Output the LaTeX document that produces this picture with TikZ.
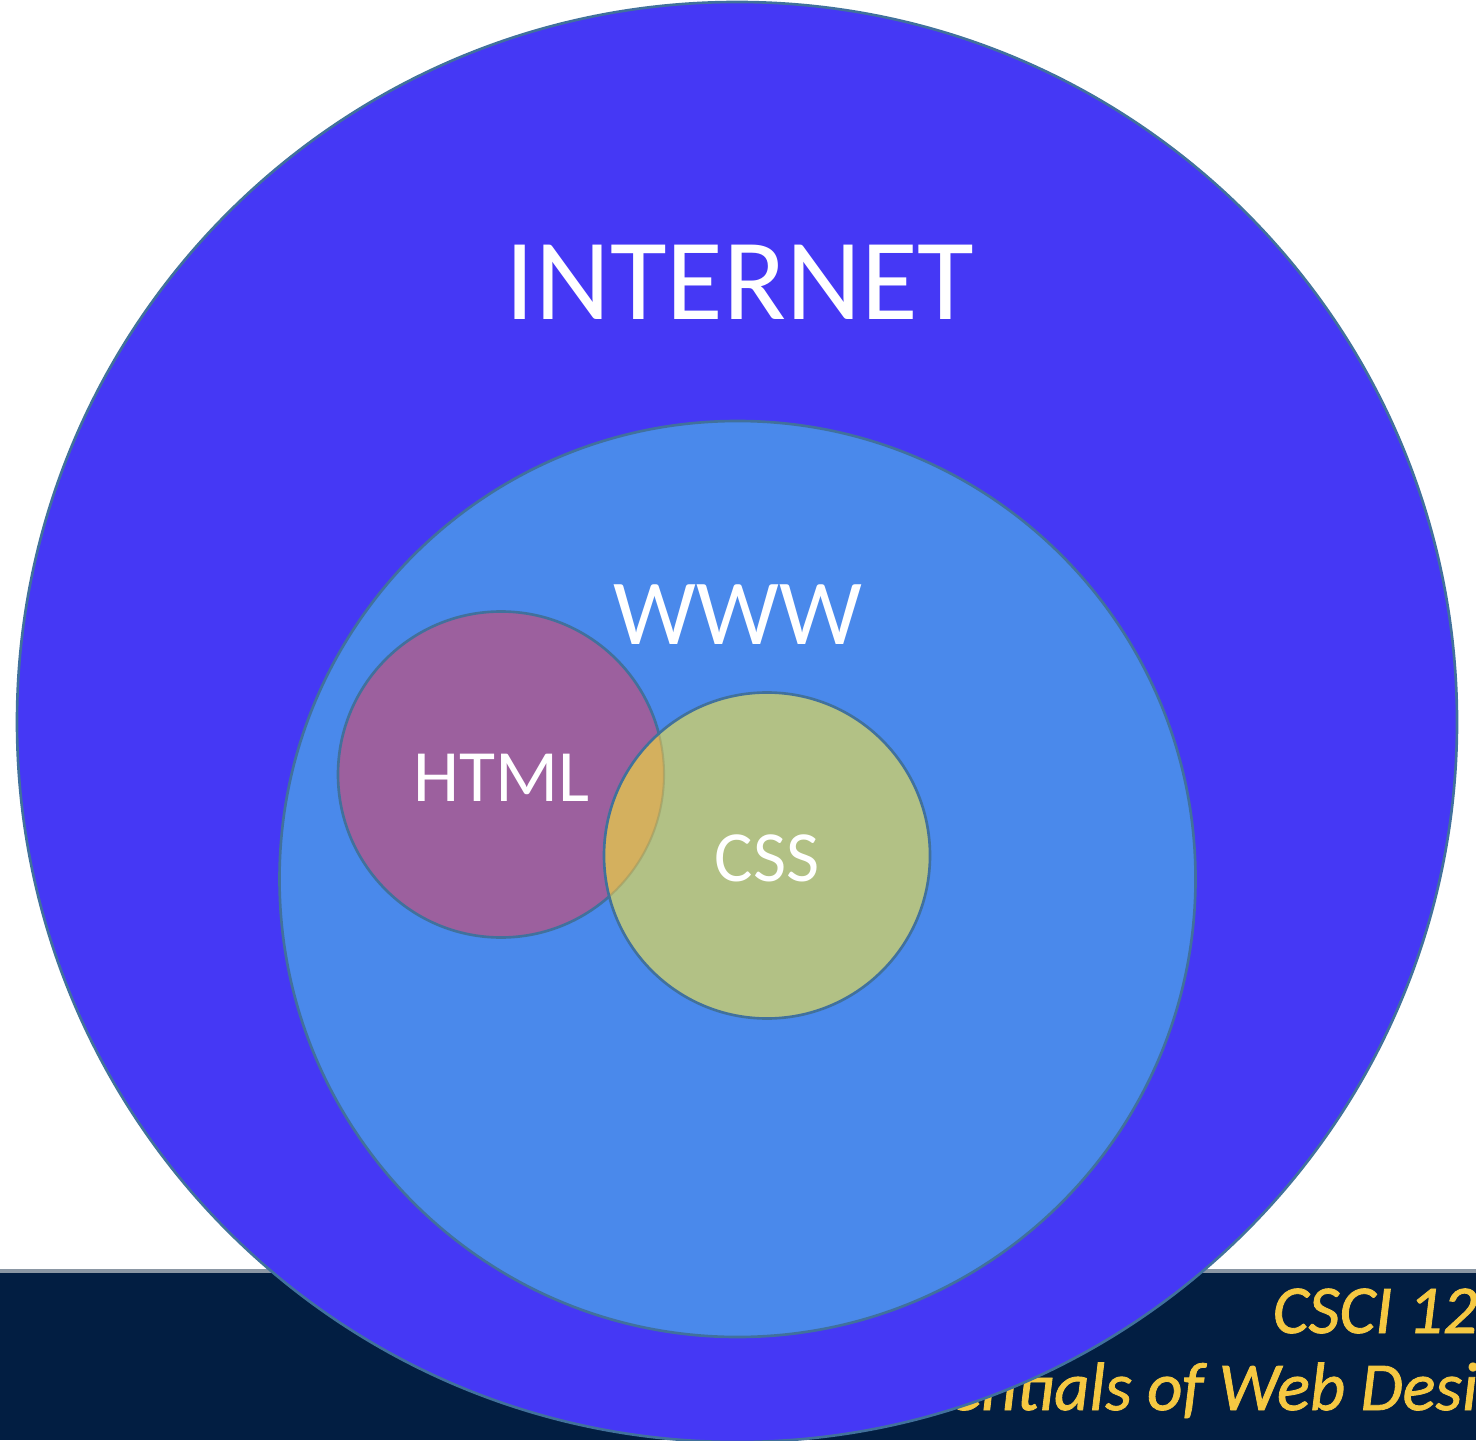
\documentclass[tikz,border=0pt]{standalone}
\usepackage{fontspec}
\setmainfont{Carlito}
\newfontfamily\captionfont[FakeBold=1.2]{Carlito}
\definecolor{netblue}{HTML}{4538F5}
\definecolor{wwwblue}{HTML}{4A89EB}
\definecolor{htmlpurple}{HTML}{9C609E}
\definecolor{cssgreen}{HTML}{B2C185}
\definecolor{lensgold}{HTML}{D4B05E}
\definecolor{rimblue}{HTML}{41719C}
\definecolor{barnavy}{HTML}{021E42}
\definecolor{bargray}{HTML}{8A96A3}
\definecolor{captionyellow}{HTML}{F5C842}
\begin{document}
\begin{tikzpicture}[
  setcircle/.style={circle, inner sep=0pt, draw=rimblue, line width=0.75pt},
  settext/.style={text=white, anchor=base, inner sep=0pt},
  captiontext/.style={text=captionyellow, anchor=base west, inner sep=0pt,
    font=\captionfont\fontsize{19.5}{23}\selectfont\itshape}
]
\useasboundingbox (0,0) rectangle (14.76,14.40);
\clip (0,0) rectangle (14.76,14.40);
\fill[white] (0,0) rectangle (14.76,14.40);

% footer bar with its caption
\fill[barnavy] (0,0) rectangle (14.76,1.69);
\draw[bargray, line width=1pt] (0,1.69) -- (14.76,1.69);
\node[captiontext] (course) at (12.72,1.07) {CSCI 12};
\node[captiontext] (title) at (9.48,0.30) {entials of Web Desi};

% nested circles
\node[setcircle, fill=netblue, minimum size=14.40cm] (internet) at (7.37,7.18) {};
\node[setcircle, fill=wwwblue, minimum size=9.16cm] (www) at (7.375,5.61) {};
\node[setcircle, fill=htmlpurple, minimum size=3.26cm] (html) at (5.01,6.655) {};
\node[setcircle, fill=cssgreen, draw=none, minimum size=3.26cm] (css) at (7.67,5.845) {};

% overlap of HTML and CSS
\begin{scope}
  \clip (css.center) circle (1.63);
  \fill[lensgold] (html.center) circle (1.63);
  \draw[color=cssgreen!70!lensgold!80!black, line width=0.6pt, opacity=0.5] (html.center) circle (1.63);
\end{scope}
\draw[rimblue, line width=0.75pt] (css.center) circle (1.63);

% labels
\node[settext, font=\fontsize{33}{40}\selectfont] (internetlabel) at (7.40,11.20) {INTERNET};
\node[settext, font=\fontsize{26.5}{32}\selectfont] (wwwlabel) at (7.38,7.95) {WWW};
\node[settext, font=\fontsize{21}{25}\selectfont] (htmllabel) at (5.02,6.39) {HTML};
\node[settext, font=\fontsize{20.5}{25}\selectfont] (csslabel) at (7.67,5.59) {CSS};
\end{tikzpicture}
\end{document}
